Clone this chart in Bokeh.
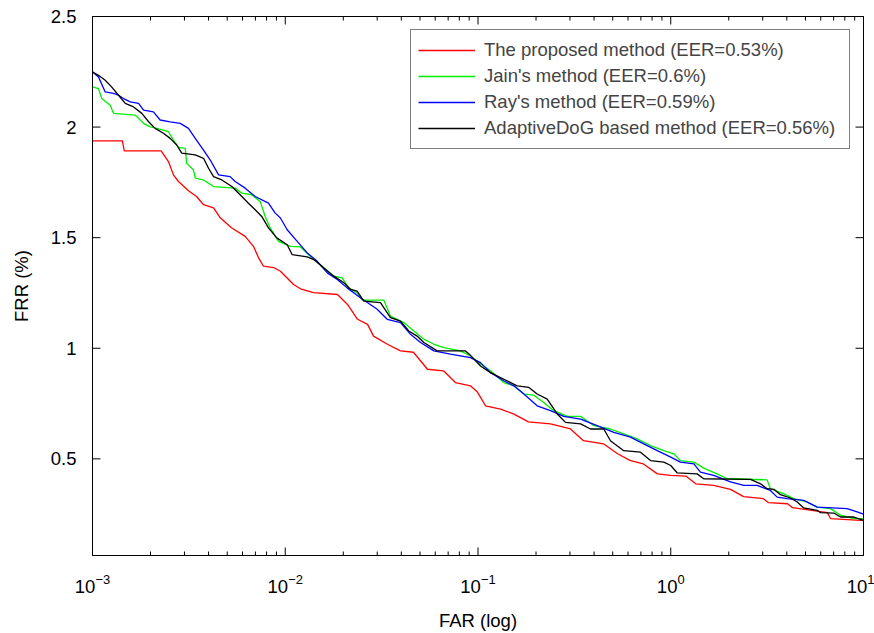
import numpy as np
from bokeh.plotting import figure
from bokeh.models import (LogAxis, LinearAxis, FixedTicker, CustomJSTickFormatter,
                          Range1d, Legend, LegendItem)
from bokeh.embed import file_html
from bokeh.resources import INLINE

# ---- data (FAR given as log10 exponent, FRR in %) ----
proposed_far_log10 = [-3.000, -2.845, -2.835, -2.644, -2.606, -2.580, -2.554, -2.502, -2.460, -2.424,
                      -2.372, -2.337, -2.279, -2.208, -2.165, -2.139, -2.113, -2.061, -2.025, -1.957,
                      -1.921, -1.853, -1.729, -1.677, -1.625, -1.573, -1.542, -1.470, -1.402, -1.335,
                      -1.262, -1.179, -1.117, -1.039, -1.003, -0.961, -0.883, -0.816, -0.738, -0.624,
                      -0.520, -0.453, -0.349, -0.276, -0.209, -0.142, -0.069, 0.000, 0.078, 0.130,
                      0.223, 0.310, 0.378, 0.481, 0.507, 0.606, 0.632, 0.813, 0.829, 0.984, 1.000]
proposed_frr = [1.938, 1.938, 1.892, 1.892, 1.844, 1.784, 1.754, 1.712, 1.686, 1.649,
                1.635, 1.590, 1.545, 1.506, 1.461, 1.410, 1.371, 1.365, 1.348, 1.288,
                1.269, 1.252, 1.243, 1.198, 1.131, 1.108, 1.055, 1.018, 0.988, 0.982,
                0.905, 0.898, 0.845, 0.830, 0.802, 0.740, 0.725, 0.703, 0.667, 0.658,
                0.635, 0.582, 0.568, 0.523, 0.492, 0.477, 0.432, 0.425, 0.422, 0.387,
                0.380, 0.362, 0.329, 0.320, 0.302, 0.297, 0.279, 0.257, 0.230, 0.222, 0.222]

jain_far_log10 = [-3.000, -2.969, -2.952, -2.908, -2.891, -2.778, -2.735, -2.700, -2.666, -2.606,
                  -2.580, -2.554, -2.519, -2.511, -2.476, -2.467, -2.424, -2.372, -2.260, -2.225,
                  -2.174, -2.130, -2.104, -2.078, -2.035, -1.973, -1.921, -1.870, -1.817, -1.748,
                  -1.705, -1.670, -1.627, -1.601, -1.489, -1.454, -1.385, -1.333, -1.281, -1.229,
                  -1.177, -1.091, -1.039, -0.996, -0.935, -0.866, -0.814, -0.762, -0.710, -0.659,
                  -0.607, -0.537, -0.468, -0.399, -0.313, -0.244, -0.174, -0.105, -0.036, 0.016,
                  0.050, 0.120, 0.171, 0.241, 0.293, 0.500, 0.517, 0.587, 0.638, 0.708,
                  0.760, 0.829, 0.881, 0.950, 1.000]
jain_frr = [2.182, 2.174, 2.129, 2.099, 2.062, 2.054, 2.017, 2.001, 1.994, 1.979,
            1.941, 1.908, 1.904, 1.836, 1.806, 1.769, 1.761, 1.731, 1.724, 1.701,
            1.694, 1.664, 1.596, 1.544, 1.483, 1.461, 1.458, 1.416, 1.378, 1.326,
            1.318, 1.273, 1.251, 1.218, 1.218, 1.145, 1.116, 1.078, 1.041, 1.018,
            1.003, 0.988, 0.965, 0.935, 0.898, 0.845, 0.830, 0.793, 0.788, 0.755,
            0.718, 0.692, 0.692, 0.650, 0.635, 0.613, 0.590, 0.560, 0.537, 0.523,
            0.492, 0.485, 0.458, 0.432, 0.410, 0.405, 0.365, 0.342, 0.320, 0.305,
            0.282, 0.275, 0.245, 0.230, 0.230]

ray_far_log10 = [-3.000, -2.969, -2.934, -2.891, -2.865, -2.839, -2.804, -2.761, -2.735, -2.684,
                 -2.649, -2.597, -2.545, -2.502, -2.467, -2.424, -2.389, -2.346, -2.286, -2.260,
                 -2.208, -2.156, -2.087, -2.052, -2.025, -1.990, -1.938, -1.886, -1.834, -1.782,
                 -1.730, -1.679, -1.610, -1.523, -1.471, -1.402, -1.350, -1.298, -1.229, -1.143,
                 -1.039, -0.987, -0.935, -0.866, -0.814, -0.762, -0.693, -0.624, -0.555, -0.468,
                 -0.382, -0.295, -0.209, -0.140, -0.070, 0.000, 0.050, 0.120, 0.154, 0.223,
                 0.310, 0.379, 0.448, 0.517, 0.552, 0.604, 0.690, 0.760, 0.915, 0.967, 1.000]
ray_frr = [2.250, 2.227, 2.159, 2.152, 2.144, 2.129, 2.114, 2.107, 2.077, 2.069,
           2.032, 2.024, 2.017, 1.994, 1.949, 1.896, 1.851, 1.784, 1.776, 1.754,
           1.724, 1.686, 1.656, 1.611, 1.589, 1.536, 1.483, 1.431, 1.393, 1.341,
           1.311, 1.273, 1.228, 1.176, 1.131, 1.116, 1.063, 1.026, 0.988, 0.973,
           0.958, 0.935, 0.890, 0.853, 0.830, 0.793, 0.740, 0.718, 0.692, 0.680,
           0.650, 0.620, 0.598, 0.568, 0.537, 0.508, 0.485, 0.477, 0.440, 0.425,
           0.396, 0.380, 0.380, 0.357, 0.327, 0.320, 0.312, 0.282, 0.275, 0.260, 0.250]

adog_far_log10 = [-3.000, -2.969, -2.934, -2.901, -2.865, -2.830, -2.787, -2.744, -2.709, -2.675,
                  -2.632, -2.597, -2.563, -2.537, -2.467, -2.424, -2.398, -2.372, -2.329, -2.277,
                  -2.234, -2.191, -2.156, -2.122, -2.087, -2.044, -1.990, -1.964, -1.886, -1.852,
                  -1.800, -1.748, -1.696, -1.661, -1.627, -1.592, -1.506, -1.454, -1.402, -1.359,
                  -1.316, -1.281, -1.212, -1.065, -1.039, -0.987, -0.935, -0.866, -0.797, -0.736,
                  -0.693, -0.641, -0.589, -0.546, -0.468, -0.416, -0.347, -0.313, -0.244, -0.157,
                  -0.105, -0.036, 0.000, 0.033, 0.137, 0.171, 0.414, 0.466, 0.500, 0.535,
                  0.569, 0.621, 0.656, 0.690, 0.760, 0.777, 0.846, 0.881, 0.950, 1.000]
adog_frr = [2.249, 2.234, 2.212, 2.182, 2.144, 2.107, 2.091, 2.062, 2.024, 1.994,
            1.972, 1.949, 1.919, 1.882, 1.874, 1.859, 1.814, 1.776, 1.761, 1.731,
            1.694, 1.656, 1.626, 1.596, 1.544, 1.499, 1.468, 1.423, 1.413, 1.401,
            1.363, 1.326, 1.296, 1.266, 1.258, 1.213, 1.206, 1.138, 1.123, 1.078,
            1.055, 1.026, 0.988, 0.988, 0.968, 0.920, 0.890, 0.860, 0.830, 0.823,
            0.793, 0.770, 0.703, 0.665, 0.658, 0.635, 0.635, 0.582, 0.537, 0.530,
            0.492, 0.485, 0.470, 0.437, 0.432, 0.410, 0.407, 0.387, 0.365, 0.362,
            0.338, 0.323, 0.305, 0.278, 0.267, 0.257, 0.255, 0.237, 0.237, 0.222]

series_labels = ["The proposed method (EER=0.53%)", "Jain's method (EER=0.6%)",
                 "Ray's method (EER=0.59%)", "AdaptiveDoG based method (EER=0.56%)"]
series_colors = ["#ff0000", "#00ee00", "#0000ff", "#000000"]

x_major = [1e-3, 1e-2, 1e-1, 1e0, 1e1]
y_major = [0.5, 1.0, 1.5, 2.0, 2.5]
X_MIN, X_MAX = 1e-3, 10.0
Y_MIN, Y_MAX = 0.063, 2.5

FONT = "Liberation Sans"
FS = "18.5px"

p = figure(width=874, height=633, x_axis_type="log",
           x_range=Range1d(X_MIN, X_MAX), y_range=Range1d(Y_MIN, Y_MAX),
           x_axis_location=None, y_axis_location=None,
           output_backend="svg", toolbar_location=None,
           min_border_left=92, min_border_top=16, min_border_right=11, min_border_bottom=76)
p.xgrid.visible = False
p.ygrid.visible = False
p.outline_line_color = "black"
p.outline_line_width = 1

minor_x = [k * d for d in [1e-3, 1e-2, 1e-1, 1e0] for k in range(2, 10)]
xt = FixedTicker(ticks=x_major, minor_ticks=minor_x)
yt = FixedTicker(ticks=y_major, minor_ticks=[])
yfmt = CustomJSTickFormatter(code="return tick.toString();")
blank = CustomJSTickFormatter(code="return '';")

bottom = LogAxis(ticker=xt, axis_label="FAR (log)")
left = LinearAxis(ticker=yt, formatter=yfmt, axis_label="FRR (%)")
top = LogAxis(ticker=xt, formatter=blank)
right = LinearAxis(ticker=yt, formatter=blank)
p.add_layout(bottom, "below")
p.add_layout(left, "left")
p.add_layout(top, "above")
p.add_layout(right, "right")

for ax in [bottom, left, top, right]:
    ax.axis_line_color = "black"
    ax.axis_line_width = 1
    ax.major_tick_in = 0
    ax.major_tick_out = 0
    ax.minor_tick_in = 0
    ax.minor_tick_out = 0
    ax.major_label_text_font = FONT
    ax.major_label_text_font_size = FS
    ax.major_label_text_color = "black"
    ax.axis_label_text_font = FONT
    ax.axis_label_text_font_size = FS
    ax.axis_label_text_font_style = "normal"
    ax.axis_label_text_color = "black"

for ax in [top, right]:
    ax.major_label_text_font_size = "0px"
    ax.major_label_standoff = 0

left.major_label_standoff = 16
left.axis_label_standoff = 16
bottom.major_label_standoff = 18
bottom.axis_label_standoff = 14

# inward-pointing tick marks (MATLAB style) on all four sides
MAJ, MIN = 8, 4
nx, ny, nm = len(x_major), len(y_major), len(minor_x)
p.ray(x=x_major, y=[Y_MIN] * nx, length=MAJ, length_units="screen", angle=np.pi / 2, line_color="black", line_width=1)
p.ray(x=x_major, y=[Y_MAX] * nx, length=MAJ, length_units="screen", angle=-np.pi / 2, line_color="black", line_width=1)
p.ray(x=minor_x, y=[Y_MIN] * nm, length=MIN, length_units="screen", angle=np.pi / 2, line_color="black", line_width=1)
p.ray(x=minor_x, y=[Y_MAX] * nm, length=MIN, length_units="screen", angle=-np.pi / 2, line_color="black", line_width=1)
p.ray(x=[X_MIN] * ny, y=y_major, length=MAJ, length_units="screen", angle=0, line_color="black", line_width=1)
p.ray(x=[X_MAX] * ny, y=y_major, length=MAJ, length_units="screen", angle=np.pi, line_color="black", line_width=1)

data = [(proposed_far_log10, proposed_frr), (jain_far_log10, jain_frr),
        (ray_far_log10, ray_frr), (adog_far_log10, adog_frr)]
items = []
for (lx, fr), lab, col in zip(data, series_labels, series_colors):
    far = 10 ** np.array(lx)
    r = p.line(far, fr, line_color=col, line_width=1.3)
    items.append(LegendItem(label=lab, renderers=[r]))

legend = Legend(items=items, location="top_right")
legend.margin = 13
legend.padding = 7
legend.spacing = 0
legend.label_height = 26
legend.glyph_height = 26
legend.glyph_width = 57
legend.label_standoff = 9
legend.label_width = 358
legend.label_text_font = FONT
legend.label_text_font_size = FS
legend.border_line_color = "black"
legend.border_line_width = 1
legend.background_fill_color = "white"
legend.background_fill_alpha = 1
p.add_layout(legend)

open("out.html", "w").write(file_html(p, INLINE))
